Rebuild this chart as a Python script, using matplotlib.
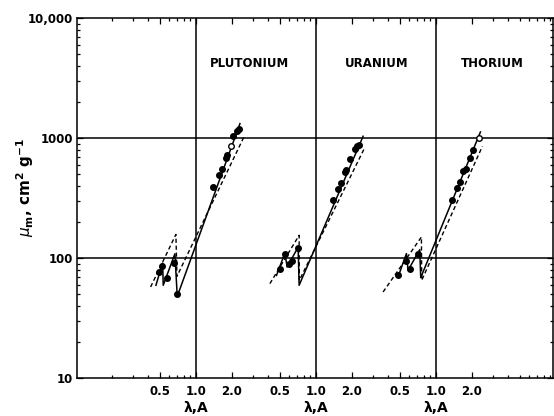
import matplotlib
matplotlib.use("Agg")
import matplotlib.pyplot as plt
from matplotlib.ticker import LogLocator, NullFormatter, FixedLocator, FixedFormatter

plt.rcParams['font.family'] = ['DejaVu Sans']
plt.rcParams['mathtext.fontset'] = 'dejavusans'

# ---------------- data ----------------
elements = ["PLUTONIUM", "URANIUM", "THORIUM"]

pu_solid_lam = [0.464, 0.528, 0.534, 0.668, 0.699, 2.33]
pu_solid_mu = [59.6, 91.4, 59.6, 109, 48.2, 1326]
pu_dash_lam = [0.419, 0.681, 0.695, 2.53]
pu_dash_mu = [57.7, 158, 70.8, 1040]
pu_dot_lam = [0.495, 0.518, 0.570, 0.656, 0.699, 1.394, 1.564, 1.637, 1.778, 1.823, 2.022, 2.184, 2.282]
pu_dot_mu = [76.9, 85.8, 68.5, 91.4, 50.1, 393, 492, 559, 685, 731, 1045, 1143, 1189]
pu_open_lam = [1.946]
pu_open_mu = [863]

u_solid_lam = [0.47, 0.552, 0.577, 0.712, 0.726, 2.48]
u_solid_mu = [72, 110.7, 84.6, 124, 59.6, 1040]
u_dash_lam = [0.414, 0.726, 0.729, 2.55]
u_dash_mu = [61.5, 155.5, 65.6, 830]
u_dot_lam = [0.501, 0.552, 0.599, 0.639, 0.704, 1.394, 1.534, 1.616, 1.745, 1.778, 1.920, 2.113, 2.209, 2.295]
u_dot_mu = [82, 109.4, 90.3, 95, 122.7, 304, 381, 424, 524, 548, 677, 820, 857, 875]
u_open_lam = []
u_open_mu = []

th_solid_lam = [0.485, 0.570, 0.588, 0.736, 0.750, 2.36]
th_solid_mu = [69.8, 109.4, 79.4, 118.2, 69, 1129]
th_dash_lam = [0.364, 0.760, 0.764, 2.45]
th_dash_mu = [52.4, 150.5, 65.6, 857]
th_dot_lam = [0.485, 0.562, 0.615, 0.712, 1.367, 1.505, 1.585, 1.689, 1.778, 1.920, 2.046]
th_dot_mu = [72.2, 95, 82, 109.4, 304, 388, 432, 534, 552, 685, 805]
th_open_lam = [2.282]
th_open_mu = [1013]

xtick_labels = ["0.5", "1.0", "2.0"]
xtick_lam = [0.5, 1.0, 2.0]
ytick_vals = [10, 100, 1000, 10000]
ytick_labels = ["10", "100", "1000", "10,000"]
xlabel_text = "λ,A"

panels = [
    (pu_solid_lam, pu_solid_mu, pu_dash_lam, pu_dash_mu, pu_dot_lam, pu_dot_mu, pu_open_lam, pu_open_mu),
    (u_solid_lam, u_solid_mu, u_dash_lam, u_dash_mu, u_dot_lam, u_dot_mu, u_open_lam, u_open_mu),
    (th_solid_lam, th_solid_mu, th_dash_lam, th_dash_mu, th_dot_lam, th_dot_mu, th_open_lam, th_open_mu),
]

# ---------------- figure ----------------
fig = plt.figure(figsize=(5.54, 4.16), dpi=100)
ax = fig.add_axes([0.1395, 0.0906, 0.8580, 0.8654])
ax.set_xscale('log')
ax.set_yscale('log')
ax.set_xlim(0.1025, 944)
ax.set_ylim(10, 10000)

lw = 1.1
# grid lines
for yv in [100, 1000]:
    ax.axhline(yv, color='black', lw=lw, zorder=1)
for k in range(3):
    ax.axvline(10 ** k, color='black', lw=lw, zorder=1)

title_x = [2.82, 32.2, 298.5]
for k, (sl, sm, dl, dm, pl, pm, ol, om) in enumerate(panels):
    shift = 10 ** k
    ax.plot([v * shift for v in sl], sm, color='black', lw=1.1, zorder=3)
    ax.plot([v * shift for v in dl], dm, color='black', lw=1.0, ls=(0, (3, 2)), zorder=3)
    ax.plot([v * shift for v in pl], pm, 'o', color='black', ms=4, zorder=4)
    if ol:
        ax.plot([v * shift for v in ol], om, 'o', mfc='white', mec='black', mew=1.0, ms=4, zorder=4)
    ax.text(title_x[k], 0.875, elements[k], transform=ax.get_xaxis_transform(),
            ha='center', va='center', fontsize=8.5, fontweight='bold')
    ax.text(shift, -0.083, xlabel_text, transform=ax.get_xaxis_transform(),
            ha='center', va='center', fontsize=10, fontweight='bold')

# ticks
xt_pos = [v * 10 ** k for k in range(3) for v in xtick_lam]
xt_lab = xtick_labels * 3
ax.xaxis.set_major_locator(FixedLocator(xt_pos))
ax.xaxis.set_major_formatter(FixedFormatter(xt_lab))
ax.xaxis.set_minor_locator(LogLocator(base=10, subs=[2, 3, 4, 5, 6, 7, 8, 9], numticks=20))
ax.xaxis.set_minor_formatter(NullFormatter())
ax.yaxis.set_major_locator(FixedLocator(ytick_vals))
ax.yaxis.set_major_formatter(FixedFormatter(ytick_labels))
ax.yaxis.set_minor_locator(LogLocator(base=10, subs=[2, 3, 4, 5, 6, 7, 8, 9], numticks=20))
ax.yaxis.set_minor_formatter(NullFormatter())

ax.tick_params(which='both', direction='in', top=True, right=True, width=0.9)
ax.tick_params(which='major', length=4)
ax.tick_params(which='minor', length=2.5)
ax.tick_params(axis='x', which='major', pad=5, labelsize=8.5)
ax.tick_params(axis='y', which='major', pad=3, labelsize=8.5)
for lab in ax.get_xticklabels() + ax.get_yticklabels():
    lab.set_fontweight('bold')

for sp in ax.spines.values():
    sp.set_linewidth(1.1)

fig.text(0.045, 0.55, r'$\mathit{\mu}_{\mathbf{m}}$, cm$^{\mathbf{2}}$ g$^{\mathbf{-1}}$',
         rotation=90, ha='center', va='center', fontsize=11, fontweight='bold')

fig.savefig('out.png', dpi=100)
